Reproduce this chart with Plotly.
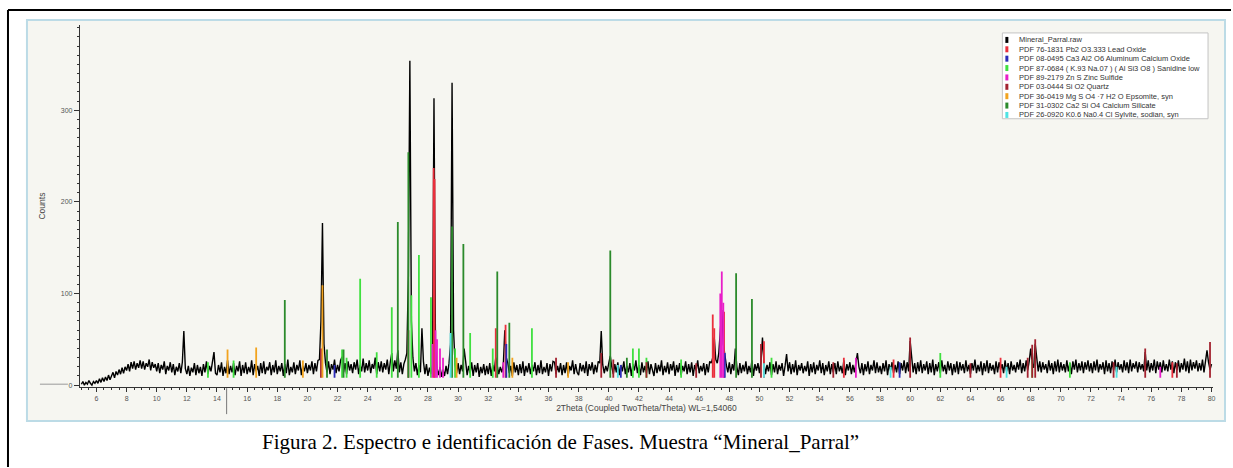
import plotly.graph_objects as go

W, H = 1233, 468


def px(x):
    return x / W


def py(y):
    return 1 - y / H


# ---- measured pattern, 0.1 deg step from 5.0 deg ----
start_2theta = 5.0
step_2theta = 0.1

counts_05_10 = [1, 4, 0, 3, 1, 5, 2, 0, 4, 2,
                5, 2, 7, 3, 8, 4, 9, 5, 11, 6,
                10, 14, 8, 15, 11, 17, 12, 19, 13, 20,
                16, 23, 15, 25, 18, 26, 17, 24, 19, 27,
                18, 26, 17, 24, 20, 28, 16, 25, 19, 23]
counts_10_15 = [15, 24, 13, 22, 17, 26, 12, 21, 16, 25,
                14, 23, 11, 20, 15, 24, 13, 25, 59, 18,
                12, 21, 10, 19, 14, 24, 11, 22, 13, 20,
                10, 23, 14, 26, 12, 21, 15, 24, 36, 13,
                11, 22, 14, 25, 10, 20, 13, 27, 12, 21]
counts_15_20 = [14, 24, 11, 21, 15, 26, 10, 22, 13, 25,
                12, 20, 14, 27, 11, 23, 15, 21, 10, 24,
                13, 26, 12, 20, 16, 25, 11, 22, 14, 27,
                12, 21, 15, 24, 10, 23, 13, 28, 11, 20,
                14, 25, 12, 22, 16, 27, 11, 21, 15, 24]
counts_20_25 = [13, 22, 16, 26, 12, 24, 15, 27, 28, 70,
                177, 45, 24, 14, 26, 12, 23, 17, 28, 13,
                22, 15, 27, 31, 14, 24, 12, 26, 16, 23,
                13, 25, 17, 28, 12, 22, 15, 29, 14, 24,
                16, 27, 13, 23, 18, 30, 12, 25, 15, 26]
counts_25_30 = [14, 24, 17, 28, 12, 25, 35, 15, 27, 18,
                38, 14, 25, 12, 23, 28, 35, 120, 354, 70,
                30, 15, 24, 11, 22, 14, 62, 26, 12, 23,
                10, 19, 12, 22, 313, 40, 18, 11, 20, 9,
                17, 10, 21, 12, 24, 45, 330, 60, 22, 13]
counts_30_35 = [24, 12, 22, 15, 40, 26, 11, 21, 13, 25,
                10, 22, 14, 24, 9, 20, 13, 23, 11, 21,
                12, 24, 10, 22, 15, 30, 22, 12, 20, 14,
                22, 60, 30, 24, 13, 21, 10, 25, 14, 22,
                11, 23, 13, 26, 10, 21, 14, 24, 12, 22]
counts_35_40 = [15, 25, 11, 22, 13, 27, 12, 20, 14, 24,
                10, 23, 15, 26, 25, 12, 21, 14, 24, 11,
                22, 13, 25, 10, 21, 16, 27, 12, 23, 14,
                11, 24, 15, 22, 13, 26, 10, 23, 16, 25,
                12, 22, 14, 26, 24, 59, 22, 13, 21, 15]
counts_40_45 = [24, 32, 20, 12, 23, 14, 25, 11, 22, 15,
                26, 12, 21, 14, 24, 10, 23, 16, 27, 13,
                22, 11, 25, 14, 21, 13, 26, 12, 23, 15,
                10, 24, 13, 22, 15, 27, 11, 21, 14, 25,
                12, 23, 16, 26, 10, 22, 14, 24, 11, 21]
counts_45_50 = [15, 26, 12, 23, 14, 25, 10, 22, 16, 27,
                13, 21, 15, 24, 11, 23, 14, 26, 24, 30,
                52, 28, 24, 35, 60, 82, 45, 30, 22, 14,
                25, 12, 23, 16, 40, 20, 11, 24, 13, 22,
                15, 26, 12, 21, 14, 27, 10, 23, 16, 24]
counts_50_55 = [13, 26, 52, 24, 12, 22, 15, 25, 11, 23,
                14, 26, 12, 22, 16, 24, 10, 21, 34, 15,
                25, 12, 23, 14, 27, 11, 22, 16, 24, 13,
                21, 15, 26, 10, 23, 14, 25, 12, 22, 16,
                27, 13, 24, 11, 22, 15, 26, 12, 23, 14]
counts_55_60 = [24, 12, 26, 15, 21, 13, 27, 11, 23, 16,
                25, 12, 22, 14, 26, 35, 20, 13, 24, 11,
                23, 15, 26, 12, 22, 16, 27, 13, 25, 14,
                21, 12, 24, 15, 27, 11, 23, 16, 25, 13,
                22, 14, 26, 12, 24, 16, 27, 13, 25, 15]
counts_60_65 = [48, 26, 14, 24, 12, 25, 15, 27, 13, 23,
                16, 26, 12, 24, 14, 28, 11, 23, 15, 25,
                13, 27, 15, 22, 12, 26, 16, 24, 11, 23,
                14, 26, 12, 25, 16, 23, 13, 27, 15, 22,
                12, 24, 16, 28, 13, 22, 15, 26, 11, 24]
counts_65_70 = [15, 27, 13, 24, 16, 22, 12, 26, 14, 25,
                17, 23, 13, 27, 15, 24, 12, 26, 16, 22,
                14, 25, 17, 28, 13, 24, 15, 27, 16, 26,
                40, 24, 19, 45, 28, 15, 26, 14, 25, 17,
                23, 13, 27, 16, 24, 12, 26, 15, 28, 14]
counts_70_75 = [25, 16, 23, 14, 27, 15, 24, 12, 26, 17,
                28, 14, 24, 16, 26, 13, 25, 17, 27, 15,
                24, 13, 26, 16, 28, 14, 23, 17, 25, 12,
                27, 15, 24, 13, 26, 16, 28, 14, 25, 17,
                23, 14, 27, 16, 25, 13, 28, 15, 24, 18]
counts_75_80 = [26, 14, 25, 17, 23, 15, 36, 16, 27, 14,
                24, 16, 28, 13, 26, 17, 25, 14, 27, 16,
                23, 15, 28, 17, 26, 13, 25, 16, 27, 14,
                24, 17, 29, 15, 26, 13, 28, 16, 25, 18,
                27, 15, 24, 16, 28, 14, 26, 38, 25, 17, 23]

raw_counts = (counts_05_10 + counts_10_15 + counts_15_20 + counts_20_25
              + counts_25_30 + counts_30_35 + counts_35_40 + counts_40_45
              + counts_45_50 + counts_50_55 + counts_55_60 + counts_60_65
              + counts_65_70 + counts_70_75 + counts_75_80)
raw_2theta = [round(start_2theta + step_2theta * i, 2) for i in range(len(raw_counts))]

# ---- reference phases (PDF stick patterns) ----
phase_names = [
    "PDF 76-1831 Pb2 O3.333 Lead Oxide",
    "PDF 08-0495 Ca3 Al2 O6 Aluminum Calcium Oxide",
    "PDF 87-0684 ( K.93 Na.07 ) ( Al Si3 O8 ) Sanidine low",
    "PDF 89-2179 Zn S Zinc Sulfide",
    "PDF 03-0444 Si O2 Quartz",
    "PDF 36-0419 Mg S O4 \u00b77 H2 O Epsomite, syn",
    "PDF 31-0302 Ca2 Si O4 Calcium Silicate",
    "PDF 26-0920 K0.6 Na0.4 Cl Sylvite, sodian, syn",
]
phase_colors = ["#ea2f3c", "#2b2bb8", "#3fe03f", "#e81ec8",
                "#a3222f", "#f2a31e", "#2b8a2b", "#4fe3e3"]

lead_oxide_2theta = [28.38, 28.44, 32.5, 33.15, 46.9, 47.0, 47.65, 50.3, 55.6, 58.9, 66.0, 77.4]
lead_oxide_counts = [237, 225, 62, 66, 77, 62, 80, 48, 30, 28, 30, 25]

ca_aluminate_2theta = [21.8, 33.2, 40.8, 47.7, 59.3]
ca_aluminate_counts = [22, 45, 22, 35, 25]

sanidine_2theta = [13.4, 15.1, 22.3, 22.6, 23.5, 24.6, 25.6, 26.9, 27.4, 28.2, 29.8,
                   30.8, 32.3, 34.9, 41.6, 42.0, 42.5, 44.8, 50.8, 62.0, 68.1, 70.6]
sanidine_counts = [25, 27, 39, 30, 116, 36, 85, 98, 142, 96, 40,
                   57, 40, 62, 40, 40, 30, 28, 30, 35, 28, 25]

zns_2theta = [28.3, 28.5, 28.6, 28.8, 29.0, 33.0, 47.4, 47.5, 47.6, 56.4, 76.6]
zns_counts = [45, 60, 50, 40, 30, 25, 100, 124, 90, 30, 20]

quartz_2theta = [20.9, 26.7, 36.5, 39.5, 40.3, 42.5, 45.8, 50.1, 54.9, 60.0,
                 64.0, 67.8, 68.1, 68.3, 73.5, 75.6, 77.7, 79.9]
quartz_counts = [40, 60, 30, 35, 28, 25, 24, 45, 25, 52,
                 24, 30, 44, 50, 25, 40, 24, 47]

epsomite_2theta = [14.7, 16.6, 19.7, 21.0, 29.9, 33.6, 37.3]
epsomite_counts = [39, 41, 27, 109, 30, 30, 25]

ca_silicate_2theta = [18.5, 21.3, 22.4, 26.0, 26.7, 29.6, 30.35, 32.6, 33.4, 40.1, 41.2, 48.45, 49.5]
ca_silicate_counts = [93, 39, 39, 178, 254, 173, 154, 124, 68, 147, 30, 122, 94]

sylvite_2theta = [29.5, 40.6, 50.3, 58.7, 66.4, 73.7]
sylvite_counts = [57, 22, 24, 20, 20, 20]

# sticks are drawn up from the background level
stick_base = 8

phase_2theta = [lead_oxide_2theta, ca_aluminate_2theta, sanidine_2theta, zns_2theta,
                quartz_2theta, epsomite_2theta, ca_silicate_2theta, sylvite_2theta]
phase_counts = [lead_oxide_counts, ca_aluminate_counts, sanidine_counts, zns_counts,
                quartz_counts, epsomite_counts, ca_silicate_counts, sylvite_counts]

fig = go.Figure()

fig.add_trace(go.Scatter(
    x=raw_2theta, y=raw_counts, mode="lines",
    line=dict(color="#000000", width=1.4), name="Mineral_Parral.raw",
    showlegend=False,
))

for name, color, pos, cnt in zip(phase_names, phase_colors, phase_2theta, phase_counts):
    xs, ys = [], []
    for t, c in zip(pos, cnt):
        xs += [t, t, None]
        ys += [stick_base, c, None]
    fig.add_trace(go.Scatter(
        x=xs, y=ys, mode="lines", line=dict(color=color, width=1.8),
        name=name, showlegend=False, connectgaps=False,
    ))

# ---- panel chrome ----
shapes = [
    # outer frame
    dict(type="line", xref="paper", yref="paper", x0=px(8), x1=px(8), y0=py(10), y1=py(468),
         line=dict(color="#000", width=2)),
    dict(type="line", xref="paper", yref="paper", x0=px(8), x1=px(1233), y0=py(10), y1=py(10),
         line=dict(color="#000", width=2)),
    # window panel
    dict(type="rect", xref="paper", yref="paper", x0=px(27), x1=px(1227), y0=py(422), y1=py(20),
         fillcolor="#f6f6f1", line=dict(color="#bcdbe6", width=2), layer="below"),
    # cursor marker under the axis
    dict(type="line", xref="paper", yref="paper", x0=px(227), x1=px(227), y0=py(389), y1=py(415),
         line=dict(color="#777", width=1)),
    # zero marker on the left
    dict(type="line", xref="paper", yref="paper", x0=px(40), x1=px(68), y0=py(385), y1=py(385),
         line=dict(color="#999", width=1)),
    # legend box
    dict(type="rect", xref="paper", yref="paper", x0=px(1004), x1=px(1210), y0=py(119), y1=py(33),
         fillcolor="#ffffff", line=dict(color="#c4c4c4", width=1)),
]

annotations = []
legend_labels = ["Mineral_Parral.raw"] + phase_names
legend_colors = ["#000000"] + phase_colors
for i, (lab, col) in enumerate(zip(legend_labels, legend_colors)):
    yc = 40 + 9.4 * i
    shapes.append(dict(type="rect", xref="paper", yref="paper",
                       x0=px(1007), x1=px(1010), y0=py(yc + 3), y1=py(yc - 3),
                       fillcolor=col, line=dict(width=0)))
    annotations.append(dict(xref="paper", yref="paper", x=px(1019), y=py(yc),
                            xanchor="left", yanchor="middle", showarrow=False,
                            text=lab, font=dict(family="Arial, Liberation Sans", size=7.5, color="#333")))

annotations.append(dict(
    xref="paper", yref="paper", x=px(561), y=py(443), xanchor="center", yanchor="middle",
    showarrow=False,
    text="Figura 2. Espectro e identificaci\u00f3n de Fases. Muestra \u201cMineral_Parral\u201d",
    font=dict(family="Liberation Serif, Times New Roman", size=21, color="#000"),
))

fig.update_layout(
    width=W, height=H,
    margin=dict(l=0, r=0, t=0, b=0),
    paper_bgcolor="#ffffff", plot_bgcolor="#ffffff",
    showlegend=False,
    shapes=shapes, annotations=annotations,
    xaxis=dict(
        domain=[px(80), px(1215)], range=[4.9, 80.1],
        showline=True, linecolor="#333", linewidth=1, mirror=False,
        ticks="outside", ticklen=4, tickcolor="#333", tick0=0, dtick=2,
        minor=dict(dtick=0.5, ticks="outside", ticklen=2, tickcolor="#333"),
        tickfont=dict(family="Arial, Liberation Sans", size=7, color="#555"),
        showgrid=False, zeroline=False,
        title=dict(text="2Theta (Coupled TwoTheta/Theta) WL=1,54060",
                   font=dict(family="Arial, Liberation Sans", size=8.5, color="#444"),
                   standoff=4),
    ),
    yaxis=dict(
        domain=[py(388), py(25)], range=[-2.2, 393],
        showline=True, linecolor="#333", linewidth=1,
        ticks="outside", ticklen=5, tickcolor="#333",
        tickvals=[0, 100, 200, 300],
        minor=dict(dtick=10, ticks="outside", ticklen=2, tickcolor="#333"),
        tickfont=dict(family="Arial, Liberation Sans", size=7, color="#555"),
        showgrid=False, zeroline=False,
        title=dict(text="Counts", font=dict(family="Arial, Liberation Sans", size=8.5, color="#444"),
                   standoff=13),
    ),
)

fig.write_html("out.html")
